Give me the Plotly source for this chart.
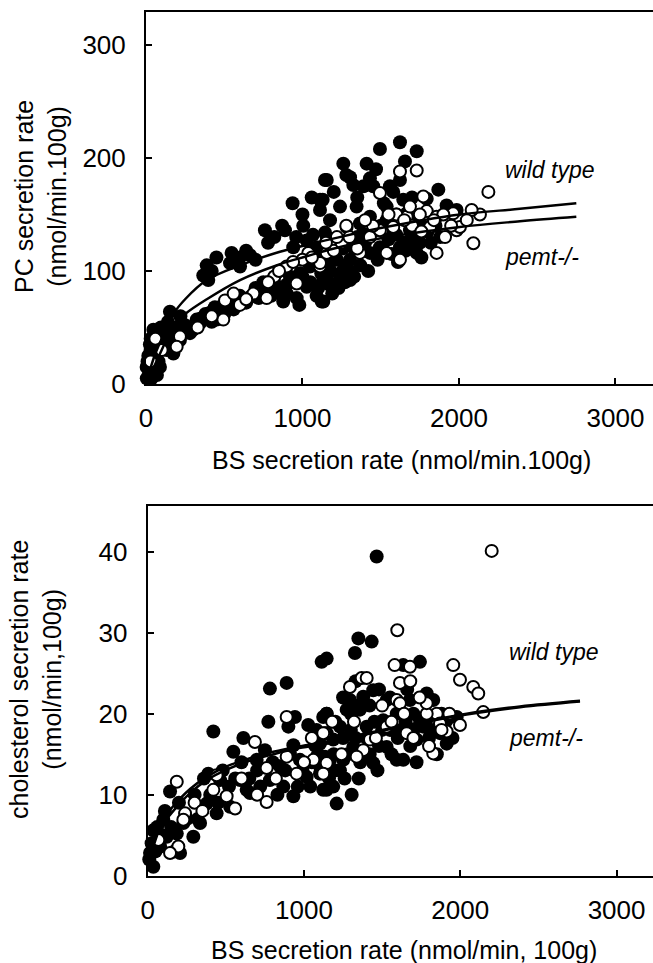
import plotly.graph_objects as go

# ---------------- data: top panel (PC vs BS) ----------------
top_wt_x = [1144, 937, 1059, 1129, 1112, 760, 888, 1005, 1067, 1144, 547, 665, 388, 366, 398, 537, 601, 153, 47, 4,
            47, 89, 36, 132, 281, 345, 409, 473, 579, 665, 771, 877, 963, 845, 920, 984, 1048, 1123, 1027, 1155,
            1091, 1027, 941, 217, 175, 89, 324, 452,
            1623, 1495, 1730, 1655, 1261, 1410, 1155, 1304, 1431, 1325, 1452, 1559, 1623, 1644, 1868, 1794, 1112, 1240,
            1346, 1431, 1538, 1921, 1985, 1730, 1176, 1282, 1388, 1580, 1687, 1772, 1155, 1240, 1325, 1495, 1623, 1197,
            1304, 1431, 1730, 1155, 1261, 1219, 1304, 1133, 1133, 1367, 1538, 1666,
            1180, 1220, 1260, 1200, 1280, 1150, 1240, 1300, 1350, 1400, 1450, 1500, 1550, 1600, 1650, 1700, 1750, 1800,
            1850, 700, 750, 820, 860, 900, 1000, 1080, 1100, 10, 20, 30, 60, 70, 110, 30, 50,
            15, 25, 40, 55, 80, 95, 120, 140, 160, 190, 220, 250, 70, 5,
            300, 350, 380, 420, 440, 500, 520, 560, 600, 640, 700, 720, 780, 800, 850, 900, 950, 980, 1050, 1090,
            1120, 1170, 1190, 1230, 1270, 1330, 1370, 1420, 1480, 1520, 1570, 1610, 1660, 1700, 1760, 1820, 1880,
            1200, 1280, 1350, 1390, 1470, 1520, 1580, 1600, 1700,
            420, 450, 600, 640, 700, 780, 820, 870, 960, 1000]
top_wt_y = [180.5, 160, 165, 163, 154, 136, 136, 140, 132, 134, 116, 114, 105, 96, 92, 107, 104, 64, 48, 15,
            27, 39, 5, 30, 45, 54, 63, 68, 73, 77, 83, 73, 76, 86, 95, 98, 104, 73, 86, 92,
            121, 127, 121, 39, 27, 15, 57, 57,
            214, 208, 206, 197, 195, 195, 180.5, 183, 182, 176, 175, 175, 180.5, 163, 172, 164, 163, 157,
            157, 148, 145, 158, 154, 145, 145, 139, 133, 133, 136, 139, 130, 124, 121, 121, 121, 113,
            110, 116, 116, 104, 101, 89, 92, 92, 73, 142, 157, 151,
            100, 110, 120, 125, 105, 115, 95, 100, 130, 125, 135, 140, 128, 132, 125, 130, 125, 135,
            140, 80, 90, 95, 80, 88, 95, 110, 85, 20, 10, 30, 25, 45, 35, 40, 10,
            25, 35, 18, 32, 20, 50, 45, 55, 40, 50, 60, 52, 8, 5,
            48, 58, 62, 55, 68, 62, 70, 66, 78, 72, 85, 76, 90, 78, 100, 80, 92, 70, 90, 78,
            98, 88, 80, 85, 90, 95, 105, 100, 110, 118, 115, 108, 118, 122, 112, 125, 130,
            170, 185, 165, 175, 190, 160, 170, 150, 165,
            100, 112, 112, 118, 110, 125, 130, 140, 130, 150]

top_ko_x = [217, 196, 494, 505, 686, 771, 899, 1037, 963, 1112, 1155, 2188, 2092, 2134, 2081, 1985, 1857, 1623, 1911,
            1730, 1623, 1772, 1666, 1794, 1857, 1495, 1538, 1431, 1176, 1112, 1367, 1495, 1963, 2006, 1815, 1687,
            1580, 60, 100, 30,
            600, 820, 1000, 1200, 1250, 1300, 1350, 1450, 1700, 1750, 1900, 2050, 1600, 1950,
            330, 420, 560, 640, 780, 850, 940, 1060, 1150, 1220, 1280, 1400, 1550, 1650, 1760, 1840]
top_ko_y = [42, 33, 57, 74, 80, 76, 104, 116, 89, 104, 116, 170, 124.5, 150, 154, 136, 116, 110, 130,
            189, 188, 166, 148, 153, 148, 169, 116, 130, 123, 107, 116, 136, 151, 139, 139, 157,
            139, 40, 30, 20,
            70, 95, 110, 118, 125, 130, 120, 140, 140, 150, 150, 145, 150, 140,
            50, 60, 80, 75, 90, 100, 108, 112, 125, 130, 140, 145, 150, 145, 135, 145]

top_curve_x = [20, 60, 120, 175, 250, 388, 601, 856, 1027, 1176, 1500, 2006, 2390, 2750]
top_wt_curve_y = [10, 27, 46, 62, 75, 92, 105, 117, 123, 128, 138, 150, 155, 160]
top_ko_curve_y = [6, 18, 36, 52, 62, 75, 92, 106, 113, 119, 129, 139, 144, 148]

# ---------------- data: bottom panel (cholesterol vs BS) ----------------
bot_wt_x = [1113, 782, 889, 420, 772, 900, 942, 1027, 1145, 548, 612, 750, 932, 1070, 143, 388, 463, 591, 633, 782,
            868, 932, 1017, 1102, 1145, 377, 441, 335, 292, 527, 655, 100, 36, 15, 36, 122, 186, 228, 207, 79,
            697, 846, 974, 1134, 1145,
            1465, 1348, 1433, 1326, 1145, 1635, 1742, 1294, 1443, 1358, 1145, 1529, 1678, 1785, 1827, 1230, 1401,
            1593, 1742, 1913, 1977, 1913, 1721, 1635, 1593, 1443, 1315, 1187, 1166, 1187, 1123, 1209, 1305, 1529,
            1763, 1507, 1273, 1123, 1102, 1102, 1379, 1593, 1870, 1251, 1379,
            1200, 1250, 1300, 1350, 1400, 1450, 1480, 1550, 1600, 1650, 1700, 1800, 1850, 1200, 1260, 1050, 1080,
            10, 25, 50, 60, 90, 110, 150, 170, 200, 250, 300, 320, 360, 400, 450, 480, 520, 560, 600, 650,
            700, 720, 800, 830, 880, 910, 960, 990, 1040, 1090, 1160, 1190, 1230, 1280, 1330, 1360, 1420, 1470,
            1500, 1560, 1620, 1680, 1720, 1780, 1830, 1880, 1950, 1420, 1480, 1550, 1300, 1350, 1250, 1330,
            1700, 1660]
bot_wt_y = [26.4, 23.1, 23.8, 17.8, 19.0, 18.4, 19.6, 18.6, 20.0, 15.3, 17.0, 15.5, 16.1, 16.1, 10.4, 12.6, 11.8,
            11.8, 10.6, 11.8, 11.0, 9.8, 12.2, 12.6, 10.6, 8.9, 7.7, 6.5, 4.8, 8.5, 10.2, 6.9, 5.6, 2.8, 1.1, 4.8,
            5.2, 6.5, 2.8, 3.6, 14.3, 13.5, 14.3, 14.7, 17.6,
            39.4, 29.3, 28.9, 27.5, 26.8, 26.0, 26.4, 21.7, 22.9, 20.5, 20.0, 21.7, 21.7, 22.5, 21.7, 18.4, 18.4,
            20.0, 19.2, 19.2, 19.6, 16.3, 16.8, 14.3, 14.3, 13.9, 15.9, 16.8, 14.3, 11.0, 10.6, 8.9, 10.0, 15.9,
            18.4, 19.2, 20.5, 19.6, 16.3, 13.5, 22.1, 17.6, 17.6, 14.3, 15.1,
            13.0, 17.0, 18.0, 12.0, 17.0, 19.0, 16.0, 18.0, 17.0, 19.0, 18.0, 17.0, 15.0, 19.0, 12.0, 14.0, 18.0,
            2, 4, 3, 6, 5, 8, 6, 3, 9, 7, 10, 7, 12, 10, 9, 13, 11, 12, 14, 12,
            13, 11, 14, 10, 13, 15, 11, 13, 11, 15, 12, 15, 13, 15, 17, 14, 15, 13,
            18, 15, 18, 16, 14, 19, 18, 20, 17, 21, 23, 22, 20, 21, 22, 24,
            20, 23]

bot_ko_x = [2201, 1597, 186, 686, 889, 889, 761, 761, 559, 505, 420, 441, 196, 143, 239, 228, 1060, 1134, 953, 68,
            1955, 1998, 2083, 2115, 2147, 1998, 1913, 1827, 1849, 1785, 1369, 1401, 1614, 1593, 1678, 1785, 1422,
            1379, 1337, 1145, 1123, 1657, 1529, 1294, 1614, 1870, 1123,
            300, 350, 600, 700, 820, 1000, 1050, 1180, 1240, 1320, 1460, 1500, 1560, 1640, 1700, 1740, 1800, 1880,
            1930, 1680, 1580]
bot_ko_y = [40.1, 30.3, 11.6, 16.5, 19.6, 14.7, 13.3, 9.1, 8.3, 9.8, 10.6, 12.4, 3.6, 2.8, 7.7, 6.9, 14.3, 17.6,
            12.6, 4.4, 26.0, 24.2, 23.3, 22.5, 20.2, 18.6, 17.8, 15.1, 20.0, 20.0, 24.4, 24.4, 23.8, 21.7, 25.8,
            21.3, 16.8, 15.5, 14.7, 13.9, 17.6, 17.6, 18.4, 23.3, 21.3, 18.8, 12.6,
            9, 8, 12, 10, 12, 14, 17, 19, 15, 19, 17, 21, 19, 20, 17, 22, 16, 18,
            20, 24, 26]

bot_curve_x = [20, 40, 79, 164, 271, 377, 505, 655, 804, 953, 1145, 1500, 2041, 2382, 2766]
bot_wt_curve_y = [2.8, 4.5, 6.5, 8.6, 10.7, 12.2, 13.5, 14.5, 15.3, 15.9, 16.5, 18.0, 20.0, 20.9, 21.6]
bot_ko_curve_y = [2.2, 3.8, 5.8, 8.0, 10.2, 11.8, 13.1, 14.2, 15.0, 15.7, 16.3, 17.9, 19.9, 20.8, 21.5]

x_ticks = [0, 1000, 2000, 3000]
top_y_ticks = [0, 100, 200, 300]
bot_y_ticks = [0, 10, 20, 30, 40]

FONT = "Liberation Sans, Arial, Helvetica, sans-serif"
W, H = 653, 963

fig = go.Figure()

def add_panel(xa, ya, wx, wy, kx, ky, cx, cwy, cky):
    fig.add_trace(go.Scatter(x=wx, y=wy, mode="markers", xaxis=xa, yaxis=ya, cliponaxis=False,
                             marker=dict(size=14, color="black", line=dict(width=0)), showlegend=False))
    fig.add_trace(go.Scatter(x=kx, y=ky, mode="markers", xaxis=xa, yaxis=ya, cliponaxis=False,
                             marker=dict(size=12, color="white", line=dict(width=2, color="black")),
                             showlegend=False))
    fig.add_trace(go.Scatter(x=cx, y=cwy, mode="lines", xaxis=xa, yaxis=ya,
                             line=dict(color="black", width=2.5, shape="spline"), showlegend=False))
    fig.add_trace(go.Scatter(x=cx, y=cky, mode="lines", xaxis=xa, yaxis=ya,
                             line=dict(color="black", width=2.5, shape="spline"), showlegend=False))

add_panel("x", "y", top_wt_x, top_wt_y, top_ko_x, top_ko_y, top_curve_x, top_wt_curve_y, top_ko_curve_y)
add_panel("x2", "y2", bot_wt_x, bot_wt_y, bot_ko_x, bot_ko_y, bot_curve_x, bot_wt_curve_y, bot_ko_curve_y)

common = dict(showline=True, linecolor="black", linewidth=2, ticks="inside", ticklen=6, tickwidth=1.5,
              tickcolor="black", showgrid=False, zeroline=False, automargin=False,
              tickfont=dict(family=FONT, size=26, color="black"))

fig.update_layout(
    width=W, height=H, autosize=False,
    margin=dict(l=0, r=0, t=0, b=0),
    paper_bgcolor="white", plot_bgcolor="white",
    hovermode=False,
    xaxis=dict(domain=[146 / W, 1.0], range=[0, 3240], tickvals=x_ticks, anchor="y", mirror=True,
               ticklabelstandoff=10, **common),
    yaxis=dict(domain=[1 - 384 / H, 1 - 12 / H], range=[0, 329.2], tickvals=top_y_ticks, anchor="x",
               ticklabelstandoff=13, **common),
    xaxis2=dict(domain=[147.7 / W, 1.0], range=[0, 3233], tickvals=x_ticks, anchor="y2", mirror=True,
                ticklabelstandoff=10, **common),
    yaxis2=dict(domain=[1 - 875.7 / H, 1 - 505.7 / H], range=[0, 45.68], tickvals=bot_y_ticks, anchor="x2",
                ticklabelstandoff=13, **common),
)

tf = dict(family=FONT, size=25, color="black")
lf = dict(family=FONT, size=23, color="black")
ann = [
    dict(text="BS secretion rate (nmol/min.100g)", x=401 / W, y=1 - 460 / H, xref="paper", yref="paper",
         showarrow=False, font=tf, xanchor="center", yanchor="middle"),
    dict(text="PC secretion rate<br>(nmol/min.100g)", x=40 / W, y=1 - 197 / H, xref="paper", yref="paper",
         showarrow=False, font=tf, textangle=-90, xanchor="center", yanchor="middle"),
    dict(text="BS secretion rate (nmol/min, 100g)", x=404 / W, y=1 - 950 / H, xref="paper", yref="paper",
         showarrow=False, font=tf, xanchor="center", yanchor="middle"),
    dict(text="cholesterol secretion rate<br>(nmol/min,100g)", x=35 / W, y=1 - 680 / H, xref="paper",
         yref="paper", showarrow=False, font=tf, textangle=-90, xanchor="center", yanchor="middle"),
    dict(text="<i>wild type</i>", x=2280, y=189, xref="x", yref="y", showarrow=False, font=lf,
         xanchor="left", yanchor="middle"),
    dict(text="<i>pemt-/-</i>", x=2280, y=112, xref="x", yref="y", showarrow=False, font=lf,
         xanchor="left", yanchor="middle"),
    dict(text="<i>wild type</i>", x=2297, y=27.65, xref="x2", yref="y2", showarrow=False, font=lf,
         xanchor="left", yanchor="middle"),
    dict(text="<i>pemt-/-</i>", x=2297, y=17.0, xref="x2", yref="y2", showarrow=False, font=lf,
         xanchor="left", yanchor="middle"),
]
fig.update_layout(annotations=ann)

fig.write_html("out.html",
               config={"displayModeBar": False},
               post_script="document.body.style.margin='0';document.body.style.padding='0';"
                           "document.documentElement.style.overflow='hidden';")
